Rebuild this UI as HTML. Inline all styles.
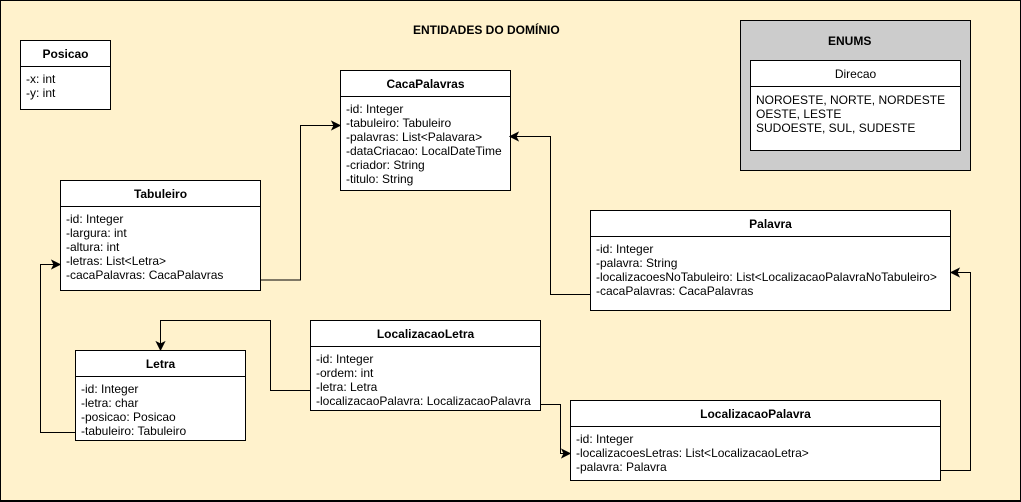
<!DOCTYPE html>
<html><head><meta charset="utf-8"><style>
*{margin:0;padding:0;box-sizing:border-box}
body{width:1021px;height:502px;overflow:hidden;background:#fff;font-family:"Liberation Sans",sans-serif;}
#bg{position:absolute;left:0;top:0;width:1021px;height:502px;background:#fff2cc;border:1px solid #000;border-bottom:2px solid #000}
.box{position:absolute;background:#fff;border:1px solid #000}
.hd{height:26px;line-height:26px;text-align:center;font-size:12px;font-weight:bold;color:#000;border-bottom:1px solid #000}
.bd{padding:5px 0 0 5px;font-size:12px;line-height:14px;color:#000;white-space:nowrap}
.t{position:absolute;font-size:12px;font-weight:bold}
svg{position:absolute;left:0;top:0}
</style></head><body>
<div id="bg"></div>
<div class="t" style="left:413px;top:23px">ENTIDADES DO DOMÍNIO</div>
<div style="position:absolute;left:740px;top:20px;width:231px;height:151px;background:#cccccc;border:1px solid #000"></div>
<div class="t" style="left:828px;top:34px">ENUMS</div>
<div class="box" style="left:750px;top:60px;width:211px;height:91px"><div class="hd" style="font-weight:normal">Direcao</div><div class="bd" style="padding-top:6px">NOROESTE, NORTE, NORDESTE<br>OESTE, LESTE<br>SUDOESTE, SUL, SUDESTE</div></div>
<div class="box" style="left:20px;top:40px;width:91px;height:70px"><div class="hd">Posicao</div><div class="bd">-x: int<br>-y: int</div></div>
<div class="box" style="left:340px;top:70px;width:171px;height:121px"><div class="hd">CacaPalavras</div><div class="bd">-id: Integer<br>-tabuleiro: Tabuleiro<br>-palavras: List&lt;Palavara&gt;<br>-dataCriacao: LocalDateTime<br>-criador: String<br>-titulo: String</div></div>
<div class="box" style="left:60px;top:180px;width:201px;height:111px"><div class="hd">Tabuleiro</div><div class="bd">-id: Integer<br>-largura: int<br>-altura: int<br>-letras: List&lt;Letra&gt;<br>-cacaPalavras: CacaPalavras</div></div>
<div class="box" style="left:590px;top:210px;width:361px;height:101px"><div class="hd">Palavra</div><div class="bd">-id: Integer<br>-palavra: String<br>-localizacoesNoTabuleiro: List&lt;LocalizacaoPalavraNoTabuleiro&gt;<br>-cacaPalavras: CacaPalavras</div></div>
<div class="box" style="left:75px;top:350px;width:171px;height:91px"><div class="hd">Letra</div><div class="bd">-id: Integer<br>-letra: char<br>-posicao: Posicao<br>-tabuleiro: Tabuleiro</div></div>
<div class="box" style="left:310px;top:320px;width:231px;height:91px"><div class="hd">LocalizacaoLetra</div><div class="bd">-id: Integer<br>-ordem: int<br>-letra: Letra<br>-localizacaoPalavra: LocalizacaoPalavra</div></div>
<div class="box" style="left:570px;top:400px;width:371px;height:81px"><div class="hd">LocalizacaoPalavra</div><div class="bd">-id: Integer<br>-localizacoesLetras: List&lt;LocalizacaoLetra&gt;<br>-palavra: Palavra</div></div>
<svg width="1021" height="502" fill="none" stroke="#000" stroke-width="1">
<polyline points="261,280 300.5,280 300.5,125.5 334,125.5"/><path d="M340,125.5 L332,121.5 L334,125.5 L332,129.5Z" fill="#000"/>
<polyline points="590,294.5 550.5,294.5 550.5,136.5 516,136.5"/><path d="M510,136.5 L518,132.5 L516,136.5 L518,140.5Z" fill="#000"/>
<polyline points="75,432.5 40.5,432.5 40.5,264.5 54,264.5"/><path d="M60,264.5 L52,260.5 L54,264.5 L52,268.5Z" fill="#000"/>
<polyline points="310,390.5 270.5,390.5 270.5,320.5 160.5,320.5 160.5,344"/><path d="M160.5,350 L156.5,342 L160.5,344 L164.5,342Z" fill="#000"/>
<polyline points="541,404.5 560.5,404.5 560.5,453.5 564,453.5"/><path d="M570,453.5 L562,449.5 L564,453.5 L562,457.5Z" fill="#000"/>
<polyline points="941,470.5 970.5,470.5 970.5,272.5 957,272.5"/><path d="M951,272.5 L959,268.5 L957,272.5 L959,276.5Z" fill="#000"/>
</svg>
</body></html>
